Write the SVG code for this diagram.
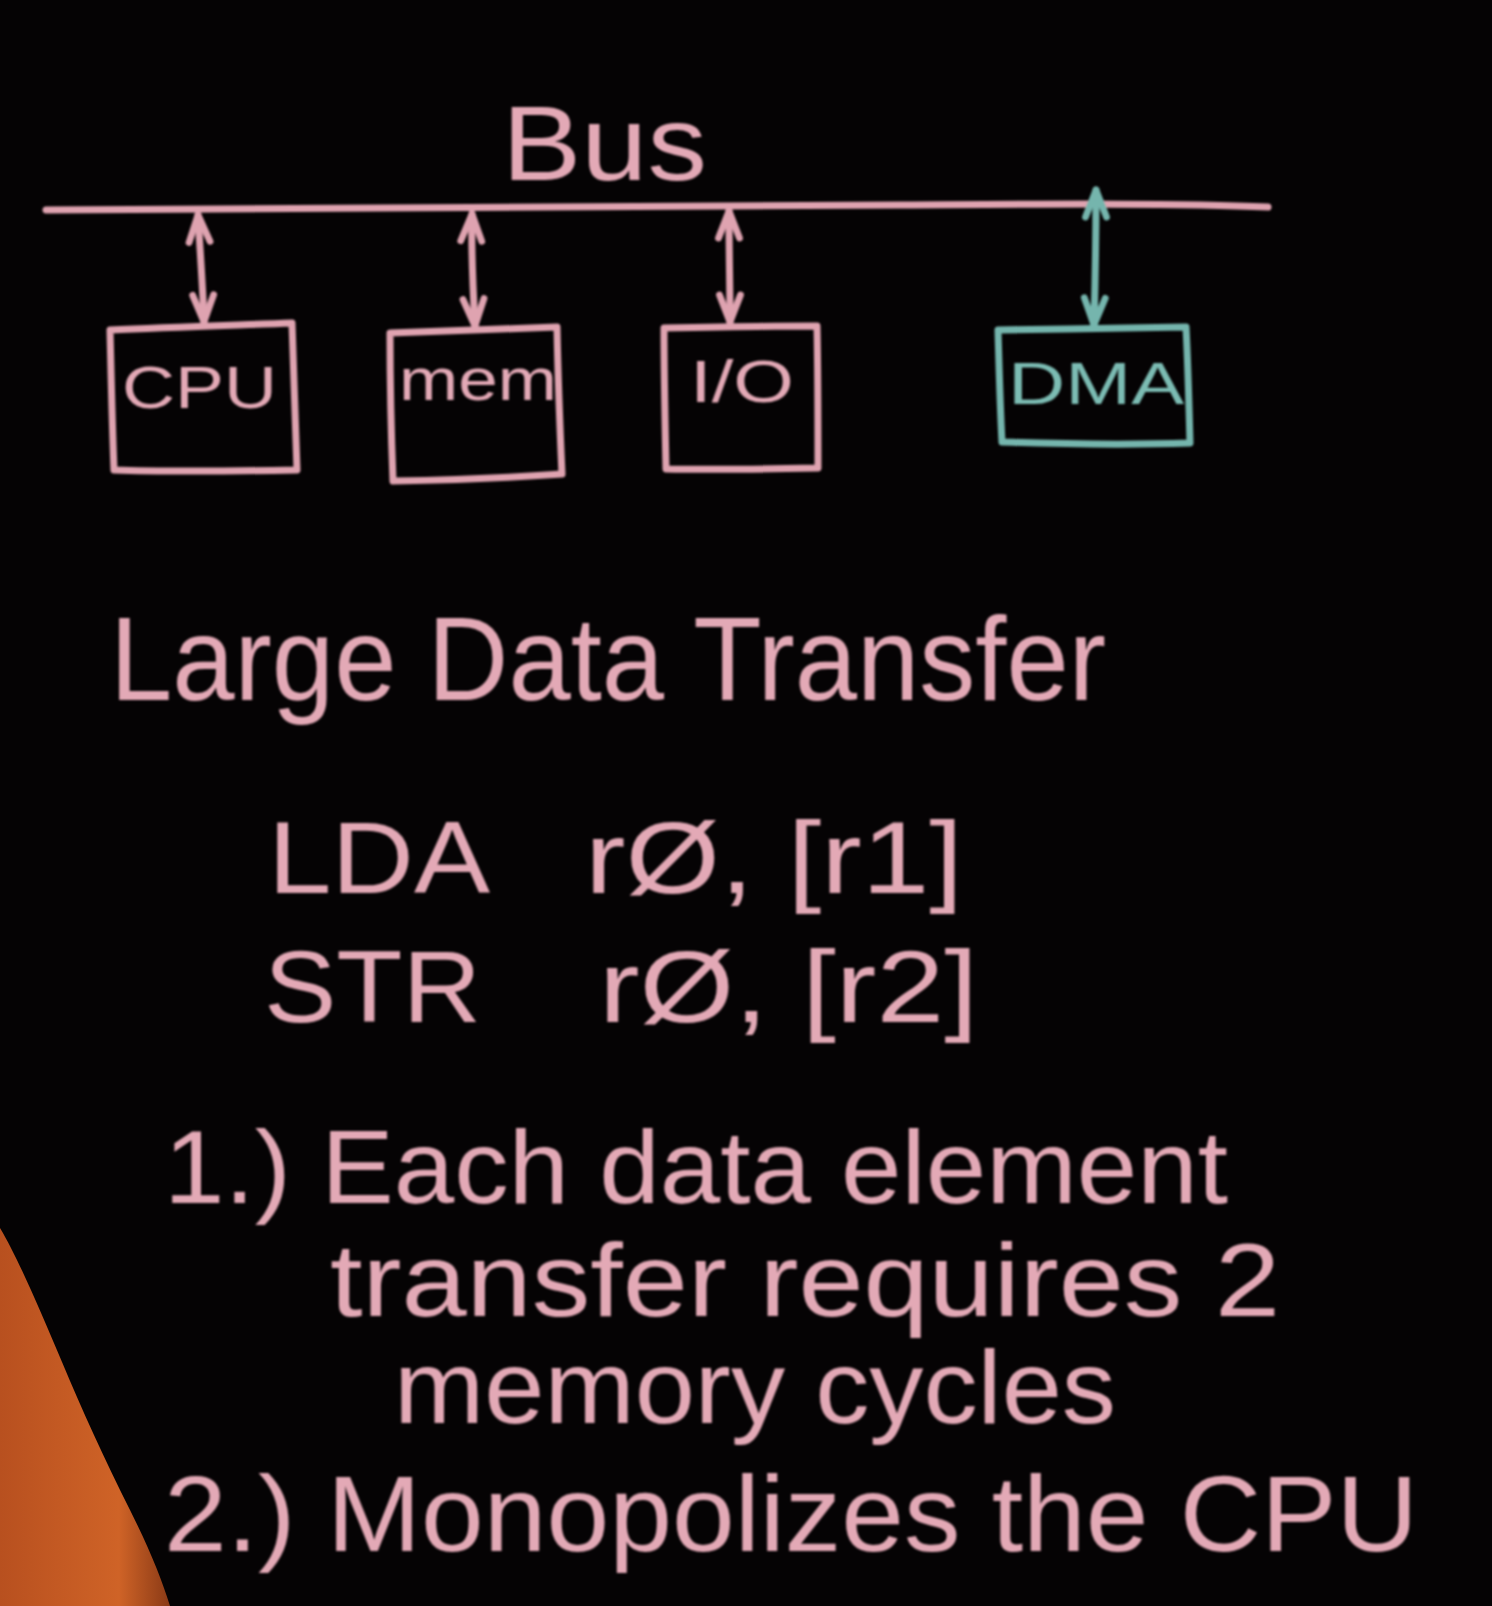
<svg xmlns="http://www.w3.org/2000/svg" width="1492" height="1606" viewBox="0 0 1492 1606">
  <style>
    .chalk { fill: none; stroke: #dfa3b0; stroke-width: 7; stroke-linecap: round; stroke-linejoin: round; }
    .teal { fill: none; stroke: #74b5ad; stroke-width: 7; stroke-linecap: round; stroke-linejoin: round; }
    .txt { fill: #e3a9b6; font-family: "Liberation Sans", "DejaVu Sans", sans-serif; }
    .lbl { fill: #e3a9b6; font-family: "Liberation Sans", "DejaVu Sans", sans-serif; font-size: 60px; }
    .tlbl { fill: #7cbcb3; font-family: "Liberation Sans", "DejaVu Sans", sans-serif; font-size: 60px; }
  </style>
  <defs>
    <filter id="soft" x="-5%" y="-5%" width="110%" height="110%">
      <feGaussianBlur stdDeviation="1.3"/>
    </filter>
    <marker id="hp" viewBox="0 0 20 20" refX="18" refY="10" markerWidth="30" markerHeight="30" markerUnits="userSpaceOnUse" orient="auto-start-reverse" style="overflow:visible">
      <path d="M0,3 L18,10 L0,17" fill="none" stroke="#dfa3b0" stroke-width="4.5" stroke-linecap="round" stroke-linejoin="round"/>
    </marker>
    <marker id="ht" viewBox="0 0 20 20" refX="18" refY="10" markerWidth="30" markerHeight="30" markerUnits="userSpaceOnUse" orient="auto-start-reverse" style="overflow:visible">
      <path d="M0,3 L18,10 L0,17" fill="none" stroke="#74b5ad" stroke-width="4.5" stroke-linecap="round" stroke-linejoin="round"/>
    </marker>
    <linearGradient id="shirt" x1="0" y1="0" x2="1" y2="0">
      <stop offset="0" stop-color="#b8501f"/>
      <stop offset="0.7" stop-color="#cf6327"/>
      <stop offset="1" stop-color="#8a3a16"/>
    </linearGradient>
  </defs>
  <rect width="1492" height="1606" fill="#050304"/>

  <!-- orange figure at lower left -->
  <path d="M0,1228 C18,1258 40,1310 62,1362 C82,1410 104,1458 130,1510 C150,1550 162,1580 170,1606 L0,1606 Z" fill="url(#shirt)"/>

  <g filter="url(#soft)">
    <!-- Bus title and line -->
    <g id="bus">
      <text class="txt" x="502" y="180" font-size="106" textLength="205" lengthAdjust="spacingAndGlyphs">Bus</text>
      <path class="chalk" d="M46,210 C300,209 600,207 900,205 C1050,204 1180,203 1268,207"/>
    </g>

    <!-- connectors -->
    <g id="connectors">
      <path class="chalk" d="M198,215 C200,250 203,290 204,322" marker-start="url(#hp)" marker-end="url(#hp)"/>
      <path class="chalk" d="M472,214 C471,250 473,290 475,326" marker-start="url(#hp)" marker-end="url(#hp)"/>
      <path class="chalk" d="M729,211 C729,250 730,290 730,322" marker-start="url(#hp)" marker-end="url(#hp)"/>
      <path class="teal" d="M1096,190 C1096,240 1095,290 1094,325" marker-start="url(#ht)" marker-end="url(#ht)"/>
    </g>

    <!-- nodes -->
    <g id="cpu">
      <path class="chalk" d="M110,330 C170,327 240,325 292,323 C294,370 295,420 297,470 C240,471 170,472 114,470 C112,420 111,370 110,330 Z"/>
      <text class="lbl" x="122" y="408" textLength="155" lengthAdjust="spacingAndGlyphs">CPU</text>
    </g>
    <g id="mem">
      <path class="chalk" d="M390,333 C450,331 510,329 557,327 C558,380 560,430 562,474 C505,478 445,480 393,481 C391,430 390,380 390,333 Z"/>
      <text class="lbl" x="399" y="400" textLength="158" lengthAdjust="spacingAndGlyphs">mem</text>
    </g>
    <g id="io">
      <path class="chalk" d="M664,328 C715,327 770,326 817,326 C818,375 818,420 818,468 C770,469 715,470 666,469 C665,420 664,375 664,328 Z"/>
      <text class="lbl" x="690" y="402" textLength="104" lengthAdjust="spacingAndGlyphs">I/O</text>
    </g>
    <g id="dma">
      <path class="teal" d="M998,330 C1060,329 1130,328 1186,327 C1188,365 1189,405 1190,443 C1130,445 1060,444 1002,442 C1000,405 999,365 998,330 Z"/>
      <text class="tlbl" x="1008" y="404" textLength="176" lengthAdjust="spacingAndGlyphs">DMA</text>
    </g>

    <!-- text block -->
    <g id="notes">
      <text class="txt" x="110" y="700" font-size="118" textLength="996" lengthAdjust="spacingAndGlyphs">Large Data Transfer</text>
      <text class="txt" x="268" y="893" font-size="102" textLength="222" lengthAdjust="spacingAndGlyphs">LDA</text>
      <text class="txt" x="585" y="893" font-size="102" textLength="378" lengthAdjust="spacingAndGlyphs">rØ, [r1]</text>
      <text class="txt" x="264" y="1022" font-size="102" textLength="217" lengthAdjust="spacingAndGlyphs">STR</text>
      <text class="txt" x="599" y="1022" font-size="102" textLength="379" lengthAdjust="spacingAndGlyphs">rØ, [r2]</text>
      <text class="txt" x="164" y="1203" font-size="104" textLength="1064" lengthAdjust="spacingAndGlyphs">1.) Each data element</text>
      <text class="txt" x="330" y="1316" font-size="104" textLength="950" lengthAdjust="spacingAndGlyphs">transfer requires 2</text>
      <text class="txt" x="394" y="1423" font-size="104" textLength="722" lengthAdjust="spacingAndGlyphs">memory cycles</text>
      <text class="txt" x="164" y="1551" font-size="108" textLength="1254" lengthAdjust="spacingAndGlyphs">2.) Monopolizes the CPU</text>
    </g>
  </g>
</svg>
